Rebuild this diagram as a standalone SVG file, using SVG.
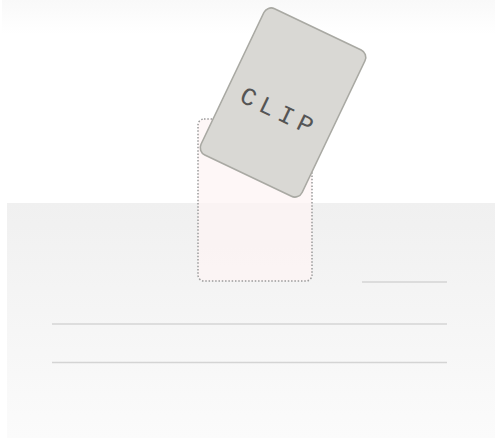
<svg xmlns="http://www.w3.org/2000/svg" width="495" height="438" viewBox="0 0 495 438">
<defs>
<linearGradient id="topg" x1="0" y1="0" x2="0" y2="1"><stop offset="0" stop-color="#f9f9f9"/><stop offset="1" stop-color="#ffffff"/></linearGradient>
<linearGradient id="panelg" x1="0" y1="0" x2="0" y2="1"><stop offset="0" stop-color="#f0f0f0"/><stop offset="1" stop-color="#fbfbfb"/></linearGradient>
</defs>
<style>
.rule{stroke:#d4d4d4;stroke-width:1.6;fill:none}
.slot{fill:#fdf3f3;fill-opacity:0.7;stroke:#9a9a9a;stroke-width:1.5;stroke-dasharray:1.5 1.8}
.card{fill:#d9d8d4;stroke:#a9a9a3;stroke-width:1.6}
.lbl{font-family:"Liberation Mono","DejaVu Sans Mono",monospace;font-size:25px;fill:#555555;letter-spacing:6px}
</style>
<rect x="0" y="0" width="495" height="438" fill="#ffffff"/>
<rect x="2" y="0" width="493" height="34" fill="url(#topg)"/>
<g id="panel">
<rect x="7" y="203" width="488" height="235" fill="url(#panelg)"/>
<line class="rule" x1="362" y1="282" x2="447" y2="282"/>
<line class="rule" x1="52" y1="324" x2="447" y2="324"/>
<line class="rule" x1="52" y1="362.5" x2="447" y2="362.5"/>
</g>
<g id="slot">
<rect class="slot" x="198" y="119" width="114" height="162" rx="6"/>
</g>
<g id="card" transform="translate(283 102.5) rotate(25.5)">
<rect class="card" x="-56" y="-81" width="112" height="162" rx="8"/>
<text class="lbl" x="1" y="18" text-anchor="middle">CLIP</text>
</g>
</svg>
